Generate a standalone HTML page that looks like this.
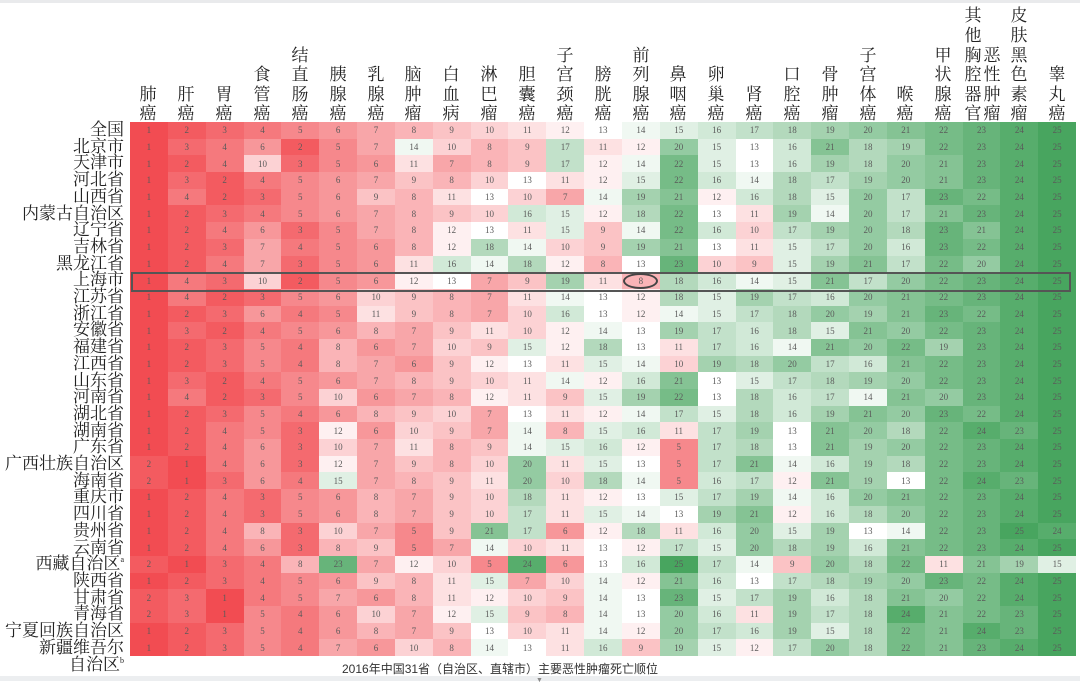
<!DOCTYPE html>
<html><head><meta charset="utf-8">
<style>
*{margin:0;padding:0;box-sizing:border-box}
body{width:1080px;height:681px;background:#fff;position:relative;overflow:hidden;font-family:"Liberation Serif","Noto Serif CJK SC",serif}
#top{position:absolute;left:0;top:0;width:1080px;height:3px;background:#e9eaec}
#bot{position:absolute;left:0;top:676px;width:1080px;height:5px;background:#eceef0}
#grid{position:absolute;left:130px;top:122px;display:grid;grid-template-columns:repeat(25,37.85px);grid-auto-rows:16.7px;font-size:9px;color:#5a5a5a}
#grid i{font-style:normal;display:flex;align-items:center;justify-content:center}
.v1{background:rgb(242,76,82)}.v2{background:rgb(243,91,96)}.v3{background:rgb(244,106,111)}.v4{background:rgb(245,121,125)}.v5{background:rgb(246,136,140)}.v6{background:rgb(247,151,154)}.v7{background:rgb(248,166,169)}.v8{background:rgb(250,180,183)}.v9{background:rgb(251,195,197)}.v10{background:rgb(252,210,212)}.v11{background:rgb(253,225,226)}.v12{background:rgb(254,240,241)}.v13{background:#fff}.v14{background:rgb(240,248,242)}.v15{background:rgb(224,240,228)}.v16{background:rgb(209,233,215)}.v17{background:rgb(194,225,202)}.v18{background:rgb(179,217,188)}.v19{background:rgb(164,210,175)}.v20{background:rgb(148,203,162)}.v21{background:rgb(133,195,148)}.v22{background:rgb(118,188,135)}.v23{background:rgb(103,180,122)}.v24{background:rgb(87,173,108)}.v25{background:rgb(72,165,95)}
#rows{position:absolute;right:956px;top:122px;text-align:right;font-size:17px;line-height:16.7px;color:#222;white-space:nowrap}
#rows sup{font-size:8px;vertical-align:top;line-height:8px}
.h{position:absolute;bottom:557px;width:20px;margin-left:-10px;text-align:center;font-size:17px;line-height:19.6px;color:#222}
#hl{position:absolute;left:131px;top:272px;width:940px;height:20px;border:2px solid #555}
#ov{position:absolute;left:623px;top:273px;width:35px;height:16px;border:2px solid #444;border-radius:50%}
#cap{position:absolute;left:342px;top:660px;font-family:"Liberation Sans","Noto Sans CJK SC",sans-serif;font-size:12px;color:#333;white-space:nowrap}
#ar{position:absolute;left:536px;top:676px;font-size:7px;color:#888}
</style></head><body>
<div id="top"></div>
<div class="h" style="left:148px">肺<br>癌</div>
<div class="h" style="left:186px">肝<br>癌</div>
<div class="h" style="left:224px">胃<br>癌</div>
<div class="h" style="left:262px">食<br>管<br>癌</div>
<div class="h" style="left:300px">结<br>直<br>肠<br>癌</div>
<div class="h" style="left:338px">胰<br>腺<br>癌</div>
<div class="h" style="left:376px">乳<br>腺<br>癌</div>
<div class="h" style="left:413px">脑<br>肿<br>瘤</div>
<div class="h" style="left:451px">白<br>血<br>病</div>
<div class="h" style="left:489px">淋<br>巴<br>瘤</div>
<div class="h" style="left:527px">胆<br>囊<br>癌</div>
<div class="h" style="left:565px">子<br>宫<br>颈<br>癌</div>
<div class="h" style="left:603px">膀<br>胱<br>癌</div>
<div class="h" style="left:641px">前<br>列<br>腺<br>癌</div>
<div class="h" style="left:678px">鼻<br>咽<br>癌</div>
<div class="h" style="left:716px">卵<br>巢<br>癌</div>
<div class="h" style="left:754px">肾<br>癌</div>
<div class="h" style="left:792px">口<br>腔<br>癌</div>
<div class="h" style="left:830px">骨<br>肿<br>瘤</div>
<div class="h" style="left:868px">子<br>宫<br>体<br>癌</div>
<div class="h" style="left:905px">喉<br>癌</div>
<div class="h" style="left:943px">甲<br>状<br>腺<br>癌</div>
<div class="h" style="left:973px">其<br>他<br>胸<br>腔<br>器<br>官</div>
<div class="h" style="left:992px">恶<br>性<br>肿<br>瘤</div>
<div class="h" style="left:1019px">皮<br>肤<br>黑<br>色<br>素<br>瘤</div>
<div class="h" style="left:1057px">睾<br>丸<br>癌</div>

<div id="rows">全国<br>北京市<br>天津市<br>河北省<br>山西省<br>内蒙古自治区<br>辽宁省<br>吉林省<br>黑龙江省<br>上海市<br>江苏省<br>浙江省<br>安徽省<br>福建省<br>江西省<br>山东省<br>河南省<br>湖北省<br>湖南省<br>广东省<br>广西壮族自治区<br>海南省<br>重庆市<br>四川省<br>贵州省<br>云南省<br>西藏自治区<sup>a</sup><br>陕西省<br>甘肃省<br>青海省<br>宁夏回族自治区<br>新疆维吾尔<br>自治区<sup>b</sup></div>

<div id="grid">
<i class=v1>1</i><i class=v2>2</i><i class=v3>3</i><i class=v4>4</i><i class=v5>5</i><i class=v6>6</i><i class=v7>7</i><i class=v8>8</i><i class=v9>9</i><i class=v10>10</i><i class=v11>11</i><i class=v12>12</i><i class=v13>13</i><i class=v14>14</i><i class=v15>15</i><i class=v16>16</i><i class=v17>17</i><i class=v18>18</i><i class=v19>19</i><i class=v20>20</i><i class=v21>21</i><i class=v22>22</i><i class=v23>23</i><i class=v24>24</i><i class=v25>25</i>
<i class=v1>1</i><i class=v3>3</i><i class=v4>4</i><i class=v6>6</i><i class=v2>2</i><i class=v5>5</i><i class=v7>7</i><i class=v14>14</i><i class=v10>10</i><i class=v8>8</i><i class=v9>9</i><i class=v17>17</i><i class=v11>11</i><i class=v12>12</i><i class=v20>20</i><i class=v15>15</i><i class=v13>13</i><i class=v16>16</i><i class=v21>21</i><i class=v18>18</i><i class=v19>19</i><i class=v22>22</i><i class=v23>23</i><i class=v24>24</i><i class=v25>25</i>
<i class=v1>1</i><i class=v2>2</i><i class=v4>4</i><i class=v10>10</i><i class=v3>3</i><i class=v5>5</i><i class=v6>6</i><i class=v11>11</i><i class=v7>7</i><i class=v8>8</i><i class=v9>9</i><i class=v17>17</i><i class=v12>12</i><i class=v14>14</i><i class=v22>22</i><i class=v15>15</i><i class=v13>13</i><i class=v16>16</i><i class=v19>19</i><i class=v18>18</i><i class=v20>20</i><i class=v21>21</i><i class=v23>23</i><i class=v24>24</i><i class=v25>25</i>
<i class=v1>1</i><i class=v3>3</i><i class=v2>2</i><i class=v4>4</i><i class=v5>5</i><i class=v6>6</i><i class=v7>7</i><i class=v9>9</i><i class=v8>8</i><i class=v10>10</i><i class=v13>13</i><i class=v11>11</i><i class=v12>12</i><i class=v15>15</i><i class=v22>22</i><i class=v16>16</i><i class=v14>14</i><i class=v18>18</i><i class=v17>17</i><i class=v19>19</i><i class=v20>20</i><i class=v21>21</i><i class=v23>23</i><i class=v24>24</i><i class=v25>25</i>
<i class=v1>1</i><i class=v4>4</i><i class=v2>2</i><i class=v3>3</i><i class=v5>5</i><i class=v6>6</i><i class=v9>9</i><i class=v8>8</i><i class=v11>11</i><i class=v13>13</i><i class=v10>10</i><i class=v7>7</i><i class=v14>14</i><i class=v19>19</i><i class=v21>21</i><i class=v12>12</i><i class=v16>16</i><i class=v18>18</i><i class=v15>15</i><i class=v20>20</i><i class=v17>17</i><i class=v23>23</i><i class=v22>22</i><i class=v24>24</i><i class=v25>25</i>
<i class=v1>1</i><i class=v2>2</i><i class=v3>3</i><i class=v4>4</i><i class=v5>5</i><i class=v6>6</i><i class=v7>7</i><i class=v8>8</i><i class=v9>9</i><i class=v10>10</i><i class=v16>16</i><i class=v15>15</i><i class=v12>12</i><i class=v18>18</i><i class=v22>22</i><i class=v13>13</i><i class=v11>11</i><i class=v19>19</i><i class=v14>14</i><i class=v20>20</i><i class=v17>17</i><i class=v21>21</i><i class=v23>23</i><i class=v24>24</i><i class=v25>25</i>
<i class=v1>1</i><i class=v2>2</i><i class=v4>4</i><i class=v6>6</i><i class=v3>3</i><i class=v5>5</i><i class=v7>7</i><i class=v8>8</i><i class=v12>12</i><i class=v13>13</i><i class=v11>11</i><i class=v15>15</i><i class=v9>9</i><i class=v14>14</i><i class=v22>22</i><i class=v16>16</i><i class=v10>10</i><i class=v17>17</i><i class=v19>19</i><i class=v20>20</i><i class=v18>18</i><i class=v23>23</i><i class=v21>21</i><i class=v24>24</i><i class=v25>25</i>
<i class=v1>1</i><i class=v2>2</i><i class=v3>3</i><i class=v7>7</i><i class=v4>4</i><i class=v5>5</i><i class=v6>6</i><i class=v8>8</i><i class=v12>12</i><i class=v18>18</i><i class=v14>14</i><i class=v10>10</i><i class=v9>9</i><i class=v19>19</i><i class=v21>21</i><i class=v13>13</i><i class=v11>11</i><i class=v15>15</i><i class=v17>17</i><i class=v20>20</i><i class=v16>16</i><i class=v23>23</i><i class=v22>22</i><i class=v24>24</i><i class=v25>25</i>
<i class=v1>1</i><i class=v2>2</i><i class=v4>4</i><i class=v7>7</i><i class=v3>3</i><i class=v5>5</i><i class=v6>6</i><i class=v11>11</i><i class=v16>16</i><i class=v14>14</i><i class=v18>18</i><i class=v12>12</i><i class=v8>8</i><i class=v13>13</i><i class=v23>23</i><i class=v10>10</i><i class=v9>9</i><i class=v15>15</i><i class=v19>19</i><i class=v21>21</i><i class=v17>17</i><i class=v22>22</i><i class=v20>20</i><i class=v24>24</i><i class=v25>25</i>
<i class=v1>1</i><i class=v4>4</i><i class=v3>3</i><i class=v10>10</i><i class=v2>2</i><i class=v5>5</i><i class=v6>6</i><i class=v12>12</i><i class=v13>13</i><i class=v7>7</i><i class=v9>9</i><i class=v19>19</i><i class=v11>11</i><i class=v8>8</i><i class=v18>18</i><i class=v16>16</i><i class=v14>14</i><i class=v15>15</i><i class=v21>21</i><i class=v17>17</i><i class=v20>20</i><i class=v22>22</i><i class=v23>23</i><i class=v24>24</i><i class=v25>25</i>
<i class=v1>1</i><i class=v4>4</i><i class=v2>2</i><i class=v3>3</i><i class=v5>5</i><i class=v6>6</i><i class=v10>10</i><i class=v9>9</i><i class=v8>8</i><i class=v7>7</i><i class=v11>11</i><i class=v14>14</i><i class=v13>13</i><i class=v12>12</i><i class=v18>18</i><i class=v15>15</i><i class=v19>19</i><i class=v17>17</i><i class=v16>16</i><i class=v20>20</i><i class=v21>21</i><i class=v22>22</i><i class=v23>23</i><i class=v24>24</i><i class=v25>25</i>
<i class=v1>1</i><i class=v2>2</i><i class=v3>3</i><i class=v6>6</i><i class=v4>4</i><i class=v5>5</i><i class=v11>11</i><i class=v9>9</i><i class=v8>8</i><i class=v7>7</i><i class=v10>10</i><i class=v16>16</i><i class=v13>13</i><i class=v12>12</i><i class=v14>14</i><i class=v15>15</i><i class=v17>17</i><i class=v18>18</i><i class=v20>20</i><i class=v19>19</i><i class=v21>21</i><i class=v23>23</i><i class=v22>22</i><i class=v24>24</i><i class=v25>25</i>
<i class=v1>1</i><i class=v3>3</i><i class=v2>2</i><i class=v4>4</i><i class=v5>5</i><i class=v6>6</i><i class=v8>8</i><i class=v7>7</i><i class=v9>9</i><i class=v11>11</i><i class=v10>10</i><i class=v12>12</i><i class=v14>14</i><i class=v13>13</i><i class=v19>19</i><i class=v17>17</i><i class=v16>16</i><i class=v18>18</i><i class=v15>15</i><i class=v21>21</i><i class=v20>20</i><i class=v22>22</i><i class=v23>23</i><i class=v24>24</i><i class=v25>25</i>
<i class=v1>1</i><i class=v2>2</i><i class=v3>3</i><i class=v5>5</i><i class=v4>4</i><i class=v8>8</i><i class=v6>6</i><i class=v7>7</i><i class=v10>10</i><i class=v9>9</i><i class=v15>15</i><i class=v12>12</i><i class=v18>18</i><i class=v13>13</i><i class=v11>11</i><i class=v17>17</i><i class=v16>16</i><i class=v14>14</i><i class=v21>21</i><i class=v20>20</i><i class=v22>22</i><i class=v19>19</i><i class=v23>23</i><i class=v24>24</i><i class=v25>25</i>
<i class=v1>1</i><i class=v2>2</i><i class=v3>3</i><i class=v5>5</i><i class=v4>4</i><i class=v8>8</i><i class=v7>7</i><i class=v6>6</i><i class=v9>9</i><i class=v12>12</i><i class=v13>13</i><i class=v11>11</i><i class=v15>15</i><i class=v14>14</i><i class=v10>10</i><i class=v19>19</i><i class=v18>18</i><i class=v20>20</i><i class=v17>17</i><i class=v16>16</i><i class=v21>21</i><i class=v22>22</i><i class=v23>23</i><i class=v24>24</i><i class=v25>25</i>
<i class=v1>1</i><i class=v3>3</i><i class=v2>2</i><i class=v4>4</i><i class=v5>5</i><i class=v6>6</i><i class=v7>7</i><i class=v8>8</i><i class=v9>9</i><i class=v10>10</i><i class=v11>11</i><i class=v14>14</i><i class=v12>12</i><i class=v16>16</i><i class=v21>21</i><i class=v13>13</i><i class=v15>15</i><i class=v17>17</i><i class=v18>18</i><i class=v19>19</i><i class=v20>20</i><i class=v22>22</i><i class=v23>23</i><i class=v24>24</i><i class=v25>25</i>
<i class=v1>1</i><i class=v4>4</i><i class=v2>2</i><i class=v3>3</i><i class=v5>5</i><i class=v10>10</i><i class=v6>6</i><i class=v7>7</i><i class=v8>8</i><i class=v12>12</i><i class=v11>11</i><i class=v9>9</i><i class=v15>15</i><i class=v19>19</i><i class=v22>22</i><i class=v13>13</i><i class=v18>18</i><i class=v16>16</i><i class=v17>17</i><i class=v14>14</i><i class=v21>21</i><i class=v20>20</i><i class=v23>23</i><i class=v24>24</i><i class=v25>25</i>
<i class=v1>1</i><i class=v2>2</i><i class=v3>3</i><i class=v5>5</i><i class=v4>4</i><i class=v6>6</i><i class=v8>8</i><i class=v9>9</i><i class=v10>10</i><i class=v7>7</i><i class=v13>13</i><i class=v11>11</i><i class=v12>12</i><i class=v14>14</i><i class=v17>17</i><i class=v15>15</i><i class=v18>18</i><i class=v16>16</i><i class=v19>19</i><i class=v21>21</i><i class=v20>20</i><i class=v23>23</i><i class=v22>22</i><i class=v24>24</i><i class=v25>25</i>
<i class=v1>1</i><i class=v2>2</i><i class=v4>4</i><i class=v5>5</i><i class=v3>3</i><i class=v12>12</i><i class=v6>6</i><i class=v10>10</i><i class=v9>9</i><i class=v7>7</i><i class=v14>14</i><i class=v8>8</i><i class=v15>15</i><i class=v16>16</i><i class=v11>11</i><i class=v17>17</i><i class=v19>19</i><i class=v13>13</i><i class=v21>21</i><i class=v20>20</i><i class=v18>18</i><i class=v22>22</i><i class=v24>24</i><i class=v23>23</i><i class=v25>25</i>
<i class=v1>1</i><i class=v2>2</i><i class=v4>4</i><i class=v6>6</i><i class=v3>3</i><i class=v10>10</i><i class=v7>7</i><i class=v11>11</i><i class=v8>8</i><i class=v9>9</i><i class=v14>14</i><i class=v15>15</i><i class=v16>16</i><i class=v12>12</i><i class=v5>5</i><i class=v17>17</i><i class=v18>18</i><i class=v13>13</i><i class=v21>21</i><i class=v19>19</i><i class=v20>20</i><i class=v22>22</i><i class=v23>23</i><i class=v24>24</i><i class=v25>25</i>
<i class=v2>2</i><i class=v1>1</i><i class=v4>4</i><i class=v6>6</i><i class=v3>3</i><i class=v12>12</i><i class=v7>7</i><i class=v9>9</i><i class=v8>8</i><i class=v10>10</i><i class=v20>20</i><i class=v11>11</i><i class=v15>15</i><i class=v13>13</i><i class=v5>5</i><i class=v17>17</i><i class=v21>21</i><i class=v14>14</i><i class=v16>16</i><i class=v19>19</i><i class=v18>18</i><i class=v22>22</i><i class=v23>23</i><i class=v24>24</i><i class=v25>25</i>
<i class=v2>2</i><i class=v1>1</i><i class=v3>3</i><i class=v6>6</i><i class=v4>4</i><i class=v15>15</i><i class=v7>7</i><i class=v8>8</i><i class=v9>9</i><i class=v11>11</i><i class=v20>20</i><i class=v10>10</i><i class=v18>18</i><i class=v14>14</i><i class=v5>5</i><i class=v16>16</i><i class=v17>17</i><i class=v12>12</i><i class=v21>21</i><i class=v19>19</i><i class=v13>13</i><i class=v22>22</i><i class=v24>24</i><i class=v23>23</i><i class=v25>25</i>
<i class=v1>1</i><i class=v2>2</i><i class=v4>4</i><i class=v3>3</i><i class=v5>5</i><i class=v6>6</i><i class=v8>8</i><i class=v7>7</i><i class=v9>9</i><i class=v10>10</i><i class=v18>18</i><i class=v11>11</i><i class=v12>12</i><i class=v13>13</i><i class=v15>15</i><i class=v17>17</i><i class=v19>19</i><i class=v14>14</i><i class=v16>16</i><i class=v20>20</i><i class=v21>21</i><i class=v22>22</i><i class=v23>23</i><i class=v24>24</i><i class=v25>25</i>
<i class=v1>1</i><i class=v2>2</i><i class=v4>4</i><i class=v3>3</i><i class=v5>5</i><i class=v6>6</i><i class=v8>8</i><i class=v7>7</i><i class=v9>9</i><i class=v10>10</i><i class=v17>17</i><i class=v11>11</i><i class=v15>15</i><i class=v14>14</i><i class=v13>13</i><i class=v19>19</i><i class=v21>21</i><i class=v12>12</i><i class=v16>16</i><i class=v18>18</i><i class=v20>20</i><i class=v22>22</i><i class=v23>23</i><i class=v24>24</i><i class=v25>25</i>
<i class=v1>1</i><i class=v2>2</i><i class=v4>4</i><i class=v8>8</i><i class=v3>3</i><i class=v10>10</i><i class=v7>7</i><i class=v5>5</i><i class=v9>9</i><i class=v21>21</i><i class=v17>17</i><i class=v6>6</i><i class=v12>12</i><i class=v18>18</i><i class=v11>11</i><i class=v16>16</i><i class=v20>20</i><i class=v15>15</i><i class=v19>19</i><i class=v13>13</i><i class=v14>14</i><i class=v22>22</i><i class=v23>23</i><i class=v25>25</i><i class=v24>24</i>
<i class=v1>1</i><i class=v2>2</i><i class=v4>4</i><i class=v6>6</i><i class=v3>3</i><i class=v8>8</i><i class=v9>9</i><i class=v5>5</i><i class=v7>7</i><i class=v14>14</i><i class=v10>10</i><i class=v11>11</i><i class=v13>13</i><i class=v12>12</i><i class=v17>17</i><i class=v15>15</i><i class=v20>20</i><i class=v18>18</i><i class=v19>19</i><i class=v16>16</i><i class=v21>21</i><i class=v22>22</i><i class=v23>23</i><i class=v24>24</i><i class=v25>25</i>
<i class=v2>2</i><i class=v1>1</i><i class=v3>3</i><i class=v4>4</i><i class=v8>8</i><i class=v23>23</i><i class=v7>7</i><i class=v12>12</i><i class=v10>10</i><i class=v5>5</i><i class=v24>24</i><i class=v6>6</i><i class=v13>13</i><i class=v16>16</i><i class=v25>25</i><i class=v17>17</i><i class=v14>14</i><i class=v9>9</i><i class=v20>20</i><i class=v18>18</i><i class=v22>22</i><i class=v11>11</i><i class=v21>21</i><i class=v19>19</i><i class=v15>15</i>
<i class=v1>1</i><i class=v2>2</i><i class=v3>3</i><i class=v4>4</i><i class=v5>5</i><i class=v6>6</i><i class=v9>9</i><i class=v8>8</i><i class=v11>11</i><i class=v15>15</i><i class=v7>7</i><i class=v10>10</i><i class=v14>14</i><i class=v12>12</i><i class=v21>21</i><i class=v16>16</i><i class=v13>13</i><i class=v17>17</i><i class=v18>18</i><i class=v19>19</i><i class=v20>20</i><i class=v23>23</i><i class=v22>22</i><i class=v24>24</i><i class=v25>25</i>
<i class=v2>2</i><i class=v3>3</i><i class=v1>1</i><i class=v4>4</i><i class=v5>5</i><i class=v7>7</i><i class=v6>6</i><i class=v8>8</i><i class=v11>11</i><i class=v12>12</i><i class=v10>10</i><i class=v9>9</i><i class=v14>14</i><i class=v13>13</i><i class=v23>23</i><i class=v15>15</i><i class=v17>17</i><i class=v19>19</i><i class=v16>16</i><i class=v18>18</i><i class=v21>21</i><i class=v20>20</i><i class=v22>22</i><i class=v24>24</i><i class=v25>25</i>
<i class=v2>2</i><i class=v3>3</i><i class=v1>1</i><i class=v5>5</i><i class=v4>4</i><i class=v6>6</i><i class=v10>10</i><i class=v7>7</i><i class=v12>12</i><i class=v15>15</i><i class=v9>9</i><i class=v8>8</i><i class=v14>14</i><i class=v13>13</i><i class=v20>20</i><i class=v16>16</i><i class=v11>11</i><i class=v19>19</i><i class=v17>17</i><i class=v18>18</i><i class=v24>24</i><i class=v21>21</i><i class=v22>22</i><i class=v23>23</i><i class=v25>25</i>
<i class=v1>1</i><i class=v2>2</i><i class=v3>3</i><i class=v5>5</i><i class=v4>4</i><i class=v6>6</i><i class=v8>8</i><i class=v7>7</i><i class=v9>9</i><i class=v13>13</i><i class=v10>10</i><i class=v11>11</i><i class=v14>14</i><i class=v12>12</i><i class=v20>20</i><i class=v17>17</i><i class=v16>16</i><i class=v19>19</i><i class=v15>15</i><i class=v18>18</i><i class=v22>22</i><i class=v21>21</i><i class=v24>24</i><i class=v23>23</i><i class=v25>25</i>
<i class=v1>1</i><i class=v2>2</i><i class=v3>3</i><i class=v5>5</i><i class=v4>4</i><i class=v7>7</i><i class=v6>6</i><i class=v10>10</i><i class=v8>8</i><i class=v14>14</i><i class=v13>13</i><i class=v11>11</i><i class=v16>16</i><i class=v9>9</i><i class=v19>19</i><i class=v15>15</i><i class=v12>12</i><i class=v17>17</i><i class=v20>20</i><i class=v18>18</i><i class=v22>22</i><i class=v21>21</i><i class=v23>23</i><i class=v24>24</i><i class=v25>25</i>
</div>
<div id="hl"></div>
<div id="ov"></div>
<div id="cap">2016年中国31省（自治区、直辖市）主要恶性肿瘤死亡顺位</div>
<div id="bot"></div>
<div id="ar">▼</div>
</body></html>
